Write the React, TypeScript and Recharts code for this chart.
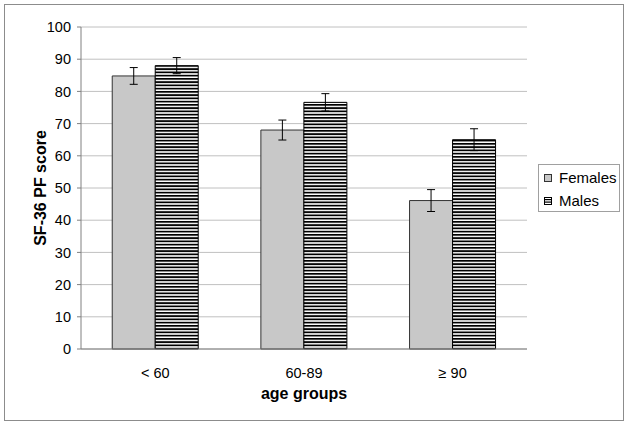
import React from 'react';
import { BarChart, Bar, XAxis, YAxis, CartesianGrid, ErrorBar, Legend } from 'recharts';

const categories = ['< 60', '60-89', '≥ 90'];
const femalesValues = [84.8, 68.0, 46.1];
const femalesErrors = [2.6, 3.1, 3.4];
const malesValues = [88.0, 76.6, 65.0];
const malesErrors = [2.5, 2.7, 3.4];
const yTicks = [0, 10, 20, 30, 40, 50, 60, 70, 80, 90, 100];

const data = categories.map((c, i) => ({
  group: c,
  Females: femalesValues[i],
  femErr: femalesErrors[i],
  Males: malesValues[i],
  malErr: malesErrors[i],
}));

const FONT = 'Arial, "Liberation Sans", sans-serif';

const LegendBox = () => (
  <div
    style={{
      position: 'absolute',
      left: 538,
      top: 164,
      width: 82,
      height: 48,
      border: '1px solid #a0a0a0',
      background: '#fff',
      fontFamily: FONT,
      fontSize: 15,
      color: '#000',
      boxSizing: 'border-box',
    }}
  >
    <div style={{ position: 'absolute', left: 5, top: 5, display: 'flex', alignItems: 'center' }}>
      <svg width={8} height={8} style={{ display: 'block' }}>
        <rect x={0.5} y={0.5} width={7} height={7} fill="#c8c8c8" stroke="#333" />
      </svg>
      <span style={{ marginLeft: 7, lineHeight: '16px' }}>Females</span>
    </div>
    <div style={{ position: 'absolute', left: 5, top: 28, display: 'flex', alignItems: 'center' }}>
      <svg width={8} height={8} style={{ display: 'block' }}>
        <rect x={0.5} y={0.5} width={7} height={7} fill="#fff" stroke="#000" />
        <rect x={0} y={2} width={8} height={1.2} fill="#000" />
        <rect x={0} y={4.5} width={8} height={1.2} fill="#000" />
      </svg>
      <span style={{ marginLeft: 7, lineHeight: '16px' }}>Males</span>
    </div>
  </div>
);

export default function App() {
  return (
    <div style={{ position: 'absolute', left: 0, top: 0, width: 629, height: 426, background: '#fff' }}>
      <div
        style={{
          position: 'absolute',
          left: 4,
          top: 4,
          width: 620,
          height: 417,
          border: '1px solid #8c8c8c',
          boxSizing: 'border-box',
        }}
      />
      <BarChart
        width={629}
        height={426}
        data={data}
        margin={{ top: 27, right: 102, left: 21, bottom: 17 }}
        barCategoryGap="21%"
        barGap={0}
        style={{ fontFamily: FONT, position: 'absolute', left: 0, top: 0 }}
      >
        <defs>
          <pattern id="stripes" patternUnits="userSpaceOnUse" width={8} height={3.25}>
            <rect x={0} y={0} width={8} height={3.25} fill="#fff" />
            <rect x={0} y={0} width={8} height={1.75} fill="#000" />
          </pattern>
        </defs>
        <CartesianGrid horizontal vertical={false} stroke="#c0c0c0" />
        <XAxis
          xAxisId="b"
          type="number"
          domain={[0, 3]}
          ticks={[1, 2]}
          tick={false}
          axisLine={false}
          tickLine={{ stroke: '#808080' }}
          tickSize={4}
          height={0}
          allowDataOverflow
        />
        <XAxis
          dataKey="group"
          tick={{ fill: '#000', fontSize: 14.5, fontFamily: FONT }}
          tickLine={false}
          axisLine={{ stroke: '#808080' }}
          tickMargin={13}
          height={60}
          label={{
            value: 'age groups',
            position: 'insideBottom',
            offset: 10,
            fill: '#000',
            fontSize: 16,
            fontWeight: 'bold',
            fontFamily: FONT,
          }}
        />
        <YAxis
          domain={[0, 100]}
          ticks={yTicks}
          width={60}
          tick={{ fill: '#000', fontSize: 14.5, fontFamily: FONT }}
          tickLine={{ stroke: '#808080' }}
          tickSize={4}
          tickMargin={6}
          axisLine={{ stroke: '#808080' }}
          label={{
            value: 'SF-36 PF score',
            angle: -90,
            position: 'center',
            dx: -11,
            fill: '#000',
            fontSize: 16,
            fontWeight: 'bold',
            fontFamily: FONT,
          }}
        />
        <YAxis
          yAxisId="r"
          orientation="right"
          domain={[0, 100]}
          ticks={yTicks}
          width={0}
          tick={false}
          tickLine={false}
          axisLine={{ stroke: '#a0a0a0' }}
        />
        <Bar dataKey="Females" fill="#c8c8c8" stroke="#333" strokeWidth={1} isAnimationActive={false}>
          <ErrorBar dataKey="femErr" width={4} stroke="#000" strokeWidth={1} />
        </Bar>
        <Bar dataKey="Males" fill="url(#stripes)" stroke="#000" strokeWidth={1} isAnimationActive={false}>
          <ErrorBar dataKey="malErr" width={4} stroke="#000" strokeWidth={1} />
        </Bar>
        <Legend content={() => <LegendBox />} wrapperStyle={{ position: 'absolute', left: 0, top: 0, width: 0, height: 0 }} />
      </BarChart>
    </div>
  );
}
